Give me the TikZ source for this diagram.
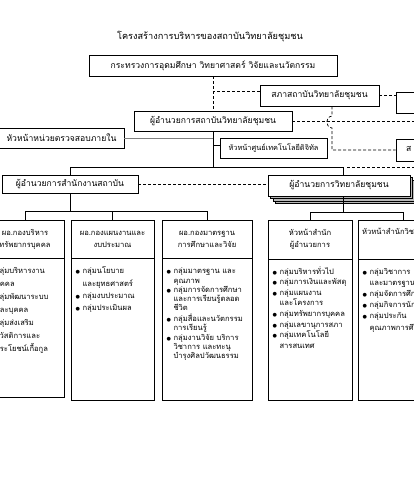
\documentclass[tikz,border=0pt]{standalone}
\usepackage{fontspec}
\setmainfont[Script=Thai]{Loma}
\newfontfamily\dv{DejaVu Sans}
\newcommand{\bulx}{{\dv\fontsize{5}{5}\selectfont ●}}
\begin{document}
\begin{tikzpicture}[x=1pt,y=-1pt,
 box/.style={draw,line width=0.9pt,fill=white,inner sep=0pt,align=center,font=\fontsize{8.6}{10}\selectfont},
 hbox/.style={draw,line width=0.9pt,fill=white,inner sep=0pt,align=center,font=\fontsize{7.6}{12}\selectfont},
 bbox/.style={draw,line width=0.9pt,fill=white,inner sep=0pt},
 lst/.style={anchor=north west,inner sep=0pt,align=left},
 dsh/.style={line width=0.7pt,dash pattern=on 3pt off 2pt},
 sol/.style={line width=0.8pt},
 aud/.style={line width=0.7pt,draw=gray}]
\useasboundingbox (0,0) rectangle (414,500);
\clip (0,0) rectangle (414,500);
\fill[white] (0,0) rectangle (414,500);

% title
\node[font=\fontsize{9.2}{11}\selectfont] (title) at (210,37) {โครงสร้างการบริหารของสถาบันวิทยาลัยชุมชน};

% top level
\node[box,minimum width=248pt,minimum height=21pt] (moe) at (213,65.5) {กระทรวงการอุดมศึกษา วิทยาศาสตร์ วิจัยและนวัตกรรม};
\node[box,minimum width=119pt,minimum height=21pt] (council) at (319.5,95.5) {สภาสถาบันวิทยาลัยชุมชน};
\node[box,minimum width=60pt,minimum height=21pt] (r1) at (426,102.5) {};
\node[box,minimum width=158pt,minimum height=20pt] (dir) at (213,121) {ผู้อำนวยการสถาบันวิทยาลัยชุมชน};
\node[box,minimum width=125pt,minimum height=20pt] (audit) at (61.5,138) {หัวหน้าหน่วยตรวจสอบภายใน};
\node[box,minimum width=107pt,minimum height=20pt,font=\fontsize{7.4}{9}\selectfont] (digital) at (273.5,148) {หัวหน้าศูนย์เทคโนโลยีดิจิทัล};
\node[box,minimum width=64pt,minimum height=22pt] (r2) at (428,150) {};
\node[font=\fontsize{8.6}{10}\selectfont,anchor=west,inner sep=0pt] (r2t) at (406,149) {ส};

% second level
\node[box,minimum width=136pt,minimum height=18pt] (office) at (70,184) {ผู้อำนวยการสำนักงานสถาบัน};
\foreach \k in {3,2,1} {\draw[line width=0.6pt,fill=gray!55] (268+2.5*\k,175+2.5*\k) rectangle (410+2.5*\k,196+2.5*\k);}
\node[box,minimum width=142pt,minimum height=21pt] (college) at (339,185.5) {ผู้อำนวยการวิทยาลัยชุมชน};
\coordinate (cstemN) at (343,175);
\coordinate (cstemS) at (343,196);
\coordinate (busT) at (0,167);
\coordinate (busL) at (0,211);
\coordinate (busR) at (0,212);
\coordinate (offR) at (420,121);
\coordinate (offB) at (420,167);

% group boxes
\node[hbox,minimum width=78pt,minimum height=38pt] (hA) at (25,239) {ผอ.กองบริหาร\\ทรัพยากรบุคคล};
\node[bbox,minimum width=78pt,minimum height=139pt,anchor=north] (bA) at (hA.south) {};
\node[hbox,minimum width=83pt,minimum height=38pt] (hB) at (112.5,239) {ผอ.กองแผนงานและ\\งบประมาณ};
\node[bbox,minimum width=83pt,minimum height=142pt,anchor=north] (bB) at (hB.south) {};
\node[hbox,minimum width=90pt,minimum height=38pt] (hC) at (207,239) {ผอ.กองมาตรฐาน\\การศึกษาและวิจัย};
\node[bbox,minimum width=90pt,minimum height=142pt,anchor=north] (bC) at (hC.south) {};
\node[hbox,minimum width=84pt,minimum height=39pt] (hD) at (310,239.5) {หัวหน้าสำนัก\\ผู้อำนวยการ};
\node[bbox,minimum width=84pt,minimum height=141pt,anchor=north] (bD) at (hD.south) {};
\node[hbox,minimum width=90pt,minimum height=39pt] (hE) at (403,239.5) {};
\node[bbox,minimum width=90pt,minimum height=141pt,anchor=north] (bE) at (hE.south) {};
\node[font=\fontsize{7.6}{12}\selectfont,anchor=west,inner sep=0pt] (hEt) at (362,231) {หัวหน้าสำนักวิชาการ};

% lists
\node[lst,font=\fontsize{7.6}{13}\selectfont] (tA) at (-12,264.5) {\begin{tabular}{@{}l@{\hspace{2.5pt}}l@{}}
\bulx & กลุ่มบริหารงาน\\ & บุคคล\\ \bulx & กลุ่มพัฒนาระบบ\\ & และบุคคล\\ \bulx & กลุ่มส่งเสริม\\ & สวัสดิการและ\\ & ประโยชน์เกื้อกูล\end{tabular}};
\node[lst,font=\fontsize{7.6}{12.3}\selectfont] (tB) at (75.5,265) {\begin{tabular}{@{}l@{\hspace{2.5pt}}l@{}}
\bulx & กลุ่มนโยบาย\\ & และยุทธศาสตร์\\ \bulx & กลุ่มงบประมาณ\\ \bulx & กลุ่มประเมินผล\end{tabular}};
\node[lst,font=\fontsize{7.6}{9.3}\selectfont] (tC) at (166.5,267) {\begin{tabular}{@{}l@{\hspace{2.5pt}}l@{}}
\bulx & กลุ่มมาตรฐาน และ\\ & คุณภาพ\\ \bulx & กลุ่มการจัดการศึกษา\\ & และการเรียนรู้ตลอด\\ & ชีวิต\\ \bulx & กลุ่มสื่อและนวัตกรรม\\ & การเรียนรู้\\ \bulx & กลุ่มงานวิจัย บริการ\\ & วิชาการ และทะนุ\\ & บำรุงศิลปวัฒนธรรม\end{tabular}};
\node[lst,font=\fontsize{7.6}{10.6}\selectfont] (tD) at (272.5,266) {\begin{tabular}{@{}l@{\hspace{2.5pt}}l@{}}
\bulx & กลุ่มบริหารทั่วไป\\ \bulx & กลุ่มการเงินและพัสดุ\\ \bulx & กลุ่มแผนงาน\\ & และโครงการ\\ \bulx & กลุ่มทรัพยากรบุคคล\\ \bulx & กลุ่มเลขานุการสภา\\ \bulx & กลุ่มเทคโนโลยี\\ & สารสนเทศ\end{tabular}};
\node[lst,font=\fontsize{7.6}{11.2}\selectfont] (tE) at (362.5,266) {\begin{tabular}{@{}l@{\hspace{2.5pt}}l@{}}
\bulx & กลุ่มวิชาการ\\ & และมาตรฐานการศึกษา\\ \bulx & กลุ่มจัดการศึกษา\\ \bulx & กลุ่มกิจการนักศึกษา\\ \bulx & กลุ่มประกัน\\ & คุณภาพการศึกษา\end{tabular}};

% connectors top
\draw[dsh] (moe.south) -- (dir.north);
\draw[dsh] ([yshift=4.5pt]council.west) -- ([yshift=4.5pt]council.west -| moe.south);
\draw[dsh] (council.east) -- (council.east -| r1.west);
\draw[dsh] ([xshift=12.5pt]council.south) -- (332,116) .. controls (325,117) and (325,127) .. (332,128) -- (332,150) -- (r2.west);
\draw[dsh] (dir.east) -- (offR);
\draw[aud] (audit.east) -- (audit.east -| dir.south);
\draw[sol] ([yshift=3pt]digital.west) -- ([yshift=3pt]digital.west -| dir.south);
\draw[sol] (dir.south) -- (dir.south |- busT);
\draw[sol] (office.north) |- (cstemN |- busT) -- (cstemN);
\draw[dsh] ([xshift=4pt]cstemN |- busT) -- (offB);
\draw[dsh] (office.east) -- (office.east -| college.west);
% connectors bottom
\draw[sol] (office.south) -- (office.south |- busL);
\draw[sol] (hA.north) |- (hC.north |- busL) -- (hC.north);
\draw[sol] (hB.north) -- (hB.north |- busL);
\draw[sol] (cstemS) -- (cstemS |- busR);
\draw[sol] (hD.north) |- (hE.north |- busR) -- (hE.north);
\end{tikzpicture}
\end{document}
